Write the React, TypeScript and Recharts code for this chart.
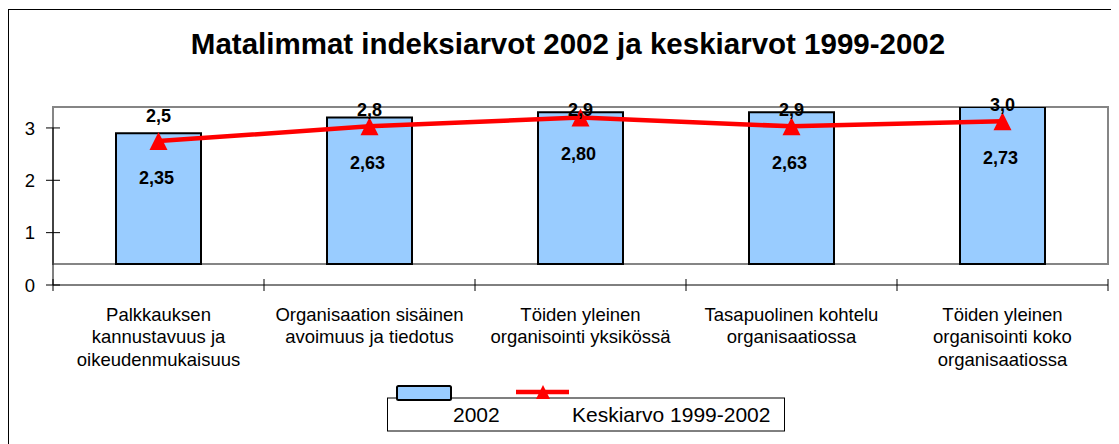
import {
  ComposedChart,
  Bar,
  Line,
  XAxis,
  YAxis,
  ReferenceArea,
  LabelList,
  Legend,
} from "recharts";

const categories = [
  "Palkkauksen\nkannustavuus ja\noikeudenmukaisuus",
  "Organisaation sisäinen\navoimuus ja tiedotus",
  "Töiden yleinen\norganisointi yksikössä",
  "Tasapuolinen kohtelu\norganisaatiossa",
  "Töiden yleinen\norganisointi koko\norganisaatiossa",
];
const values2002 = [2.5, 2.8, 2.9, 2.9, 3.0];
const averages = [2.35, 2.63, 2.8, 2.63, 2.73];
const yTicks = [0, 1, 2, 3];

const data = categories.map((name, i) => ({
  name,
  v2002: values2002[i],
  avg: averages[i],
}));

const FONT = '"Liberation Sans", Arial, Helvetica, sans-serif';
const W = 1111;
const H = 436;
const MARGIN = { top: 99, right: 11, bottom: 79, left: 0 };
const Y_AXIS_W = 45;
const X_AXIS_H = 80;
const PLOT_TOP = MARGIN.top;
const PLOT_BOTTOM = H - MARGIN.bottom - X_AXIS_H;
const VIS_MAX = 3.4;
const UNIT_PX = (PLOT_BOTTOM - PLOT_TOP) / VIS_MAX;
const BAND = (W - MARGIN.left - MARGIN.right - Y_AXIS_W) / categories.length;

const RED = "#FF0000";
const BLUE = "#99CCFF";

const fmt = (v: number, d: number) => v.toFixed(d).replace(".", ",");

const YTick = (props: any) => {
  const { x, y, payload } = props;
  return (
    <g>
      <line x1={x - 7} x2={x + 7} y1={y} y2={y} stroke="#000" />
      {payload.value > 0 && (
        <line x1={x} x2={x} y1={y} y2={y + UNIT_PX} stroke="#000" />
      )}
      <text
        x={x - 18}
        y={y + 6.8}
        textAnchor="end"
        fontSize={18.5}
        fontFamily={FONT}
        fill="#000"
      >
        {payload.value}
      </text>
    </g>
  );
};

const XTick = (props: any) => {
  const { x, y, payload, index } = props;
  const lines = String(payload.value).split("\n");
  return (
    <g>
      {index === 0 && (
        <line x1={x - BAND / 2} x2={x - BAND / 2} y1={y - 6} y2={y + 6} stroke="#000" />
      )}
      <line x1={x + BAND / 2} x2={x + BAND / 2} y1={y - 6} y2={y + 6} stroke="#000" />
      <text textAnchor="middle" fontSize={18.5} fontFamily={FONT} fill="#000">
        {lines.map((l, i) => (
          <tspan key={i} x={x} y={y + 36 + i * 22.3}>
            {l}
          </tspan>
        ))}
      </text>
    </g>
  );
};

const TriangleDot = (props: any) => {
  const { cx, cy, index } = props;
  if (cx == null || cy == null) return null;
  return (
    <path
      key={`tri-${index}`}
      d={`M${cx},${cy - 9} L${cx + 9},${cy + 9} L${cx - 9},${cy + 9} Z`}
      fill={RED}
    />
  );
};

const BarValueLabel = (props: any) => {
  const { x, y, width, value } = props;
  const center = Math.min(y - 2, Math.max(y - 17, PLOT_TOP + 3));
  return (
    <text
      x={x + width / 2}
      y={center + 6.3}
      textAnchor="middle"
      fontSize={18}
      fontWeight="bold"
      fontFamily={FONT}
      fill="#000"
    >
      {fmt(value, 1)}
    </text>
  );
};

const AvgLabel = (props: any) => {
  const { x, y, value } = props;
  return (
    <text
      x={x - 2}
      y={y + 42.5}
      textAnchor="middle"
      fontSize={18}
      fontWeight="bold"
      fontFamily={FONT}
      fill="#000"
    >
      {fmt(value, 2)}
    </text>
  );
};

const LegendBox = () => (
  <svg width={400} height={56} style={{ display: "block", fontFamily: FONT }}>
    <rect x={0.5} y={18} width={397} height={33} fill="#fff" stroke="#000" />
    <rect x={10} y={6} width={54} height={14} rx={1.5} fill={BLUE} stroke="#000" strokeWidth={2} />
    <line x1={129} x2={182} y1={12} y2={12} stroke={RED} strokeWidth={4.5} />
    <path d="M156,5 L163,19 L149,19 Z" fill={RED} />
    <text x={66} y={42.3} fontSize={21} fill="#000">
      2002
    </text>
    <text x={185} y={42.3} fontSize={21} fill="#000">
      Keskiarvo 1999-2002
    </text>
  </svg>
);

export default function App() {
  return (
    <div style={{ position: "relative", width: W, height: H, fontFamily: FONT }}>
      <div
        style={{
          position: "absolute",
          left: 0,
          top: 1,
          width: W,
          height: H,
          borderLeft: "1px solid #000",
          borderTop: "1px solid #000",
          boxSizing: "border-box",
        }}
      />
      <div
        style={{
          position: "absolute",
          left: 0,
          top: 21,
          width: 1120,
          textAlign: "center",
          fontSize: 29.5,
          lineHeight: "29.5px",
          fontWeight: "bold",
          color: "#000",
        }}
      >
        Matalimmat indeksiarvot 2002 ja keskiarvot 1999-2002
      </div>
      <ComposedChart width={W} height={H} data={data} margin={MARGIN}>
        <XAxis
          dataKey="name"
          height={X_AXIS_H}
          interval={0}
          axisLine={{ stroke: "#000" }}
          tickLine={false}
          tickSize={0}
          tickMargin={0}
          tick={<XTick />}
        />
        <YAxis
          yAxisId="axis"
          width={Y_AXIS_W}
          domain={[0, VIS_MAX]}
          ticks={yTicks}
          allowDataOverflow
          axisLine={false}
          tickLine={false}
          tickSize={0}
          tickMargin={0}
          tick={<YTick />}
        />
        <YAxis yAxisId="data" hide domain={[-0.4, 3.0]} allowDataOverflow />
        <ReferenceArea
          yAxisId="data"
          y1={0}
          y2={3.0}
          fill="none"
          stroke="#858585"
          strokeWidth={2}
          ifOverflow="visible"
        />
        <Bar
          yAxisId="data"
          dataKey="v2002"
          name="2002"
          fill={BLUE}
          stroke="#000"
          strokeWidth={2}
          barSize={85}
          isAnimationActive={false}
        >
          <LabelList dataKey="v2002" content={<BarValueLabel />} />
        </Bar>
        <Line
          yAxisId="data"
          dataKey="avg"
          name="Keskiarvo 1999-2002"
          stroke={RED}
          strokeWidth={4.5}
          dot={<TriangleDot />}
          activeDot={false}
          isAnimationActive={false}
        >
          <LabelList dataKey="avg" content={<AvgLabel />} />
        </Line>
        <Legend
          layout="horizontal"
          verticalAlign="middle"
          align="center"
          wrapperStyle={{ left: 379, top: 372, width: 400, height: 56 }}
          content={<LegendBox />}
        />
      </ComposedChart>
    </div>
  );
}
